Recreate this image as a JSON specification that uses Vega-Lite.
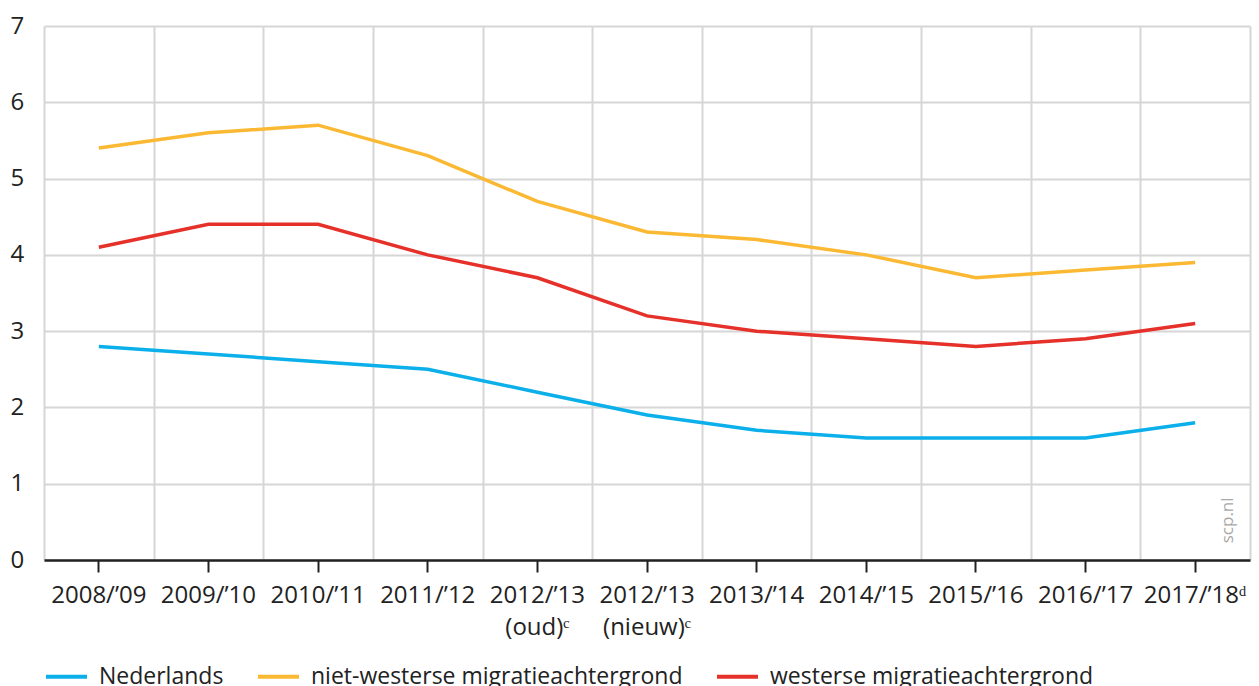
{
  "$schema": "https://vega.github.io/schema/vega-lite/v6.json",
  "width": 1206,
  "height": 534,
  "autosize": "none",
  "padding": {"left": 44, "top": 26, "right": 9, "bottom": 126},
  "background": "white",
  "config": {
    "font": "Open Sans",
    "view": {"stroke": null},
    "axis": {"labelFont": "Open Sans", "labelFontSize": 24, "labelColor": "#222222"}
  },
  "datasets": {
    "main": [
      {"year": "2008/’09", "groep": "Nederlands", "waarde": 2.8},
      {"year": "2009/’10", "groep": "Nederlands", "waarde": 2.7},
      {"year": "2010/’11", "groep": "Nederlands", "waarde": 2.6},
      {"year": "2011/’12", "groep": "Nederlands", "waarde": 2.5},
      {"year": "2012/’13|(oud)ᶜ", "groep": "Nederlands", "waarde": 2.2},
      {"year": "2012/’13|(nieuw)ᶜ", "groep": "Nederlands", "waarde": 1.9},
      {"year": "2013/’14", "groep": "Nederlands", "waarde": 1.7},
      {"year": "2014/’15", "groep": "Nederlands", "waarde": 1.6},
      {"year": "2015/’16", "groep": "Nederlands", "waarde": 1.6},
      {"year": "2016/’17", "groep": "Nederlands", "waarde": 1.6},
      {"year": "2017/’18ᵈ", "groep": "Nederlands", "waarde": 1.8},
      {"year": "2008/’09", "groep": "niet-westerse migratieachtergrond", "waarde": 5.4},
      {"year": "2009/’10", "groep": "niet-westerse migratieachtergrond", "waarde": 5.6},
      {"year": "2010/’11", "groep": "niet-westerse migratieachtergrond", "waarde": 5.7},
      {"year": "2011/’12", "groep": "niet-westerse migratieachtergrond", "waarde": 5.3},
      {"year": "2012/’13|(oud)ᶜ", "groep": "niet-westerse migratieachtergrond", "waarde": 4.7},
      {"year": "2012/’13|(nieuw)ᶜ", "groep": "niet-westerse migratieachtergrond", "waarde": 4.3},
      {"year": "2013/’14", "groep": "niet-westerse migratieachtergrond", "waarde": 4.2},
      {"year": "2014/’15", "groep": "niet-westerse migratieachtergrond", "waarde": 4.0},
      {"year": "2015/’16", "groep": "niet-westerse migratieachtergrond", "waarde": 3.7},
      {"year": "2016/’17", "groep": "niet-westerse migratieachtergrond", "waarde": 3.8},
      {"year": "2017/’18ᵈ", "groep": "niet-westerse migratieachtergrond", "waarde": 3.9},
      {"year": "2008/’09", "groep": "westerse migratieachtergrond", "waarde": 4.1},
      {"year": "2009/’10", "groep": "westerse migratieachtergrond", "waarde": 4.4},
      {"year": "2010/’11", "groep": "westerse migratieachtergrond", "waarde": 4.4},
      {"year": "2011/’12", "groep": "westerse migratieachtergrond", "waarde": 4.0},
      {"year": "2012/’13|(oud)ᶜ", "groep": "westerse migratieachtergrond", "waarde": 3.7},
      {"year": "2012/’13|(nieuw)ᶜ", "groep": "westerse migratieachtergrond", "waarde": 3.2},
      {"year": "2013/’14", "groep": "westerse migratieachtergrond", "waarde": 3.0},
      {"year": "2014/’15", "groep": "westerse migratieachtergrond", "waarde": 2.9},
      {"year": "2015/’16", "groep": "westerse migratieachtergrond", "waarde": 2.8},
      {"year": "2016/’17", "groep": "westerse migratieachtergrond", "waarde": 2.9},
      {"year": "2017/’18ᵈ", "groep": "westerse migratieachtergrond", "waarde": 3.1}
    ],
    "mark": [
      {"year": "2017/’18ᵈ", "tekst": "scp.nl", "waarde": 0.52}
    ]
  },
  "data": {"name": "main"},
  "resolve": {"axis": {"x": "independent"}},
  "layer": [
    {
      "mark": {"type": "point", "opacity": 0},
      "encoding": {
        "x": {
          "field": "year", "type": "nominal",
          "scale": {"type": "band", "paddingInner": 0, "paddingOuter": 0,
            "domain": ["2008/’09", "2009/’10", "2010/’11", "2011/’12", "2012/’13|(oud)ᶜ", "2012/’13|(nieuw)ᶜ", "2013/’14", "2014/’15", "2015/’16", "2016/’17", "2017/’18ᵈ"]},
          "axis": {"orient": "bottom", "title": null, "labels": false, "ticks": false, "domain": false, "grid": true, "tickBand": "extent", "gridColor": "#d6d6d6", "gridWidth": 2, "zindex": 0}
        },
        "y": {"field": "waarde", "type": "quantitative"}
      }
    },
    {
      "mark": {"type": "line", "strokeWidth": 3.5},
      "encoding": {
        "x": {
          "field": "year", "type": "nominal",
          "axis": {"orient": "bottom", "title": null, "grid": false, "labelAngle": 0,
            "labelExpr": "split(datum.value, '|')", "labelLineHeight": 32,
            "labelPadding": 11, "tickSize": 12, "tickWidth": 2, "tickColor": "#222222",
            "domainColor": "#222222", "domainWidth": 2.5, "labelBaseline": "top", "zindex": 1}
        },
        "y": {
          "field": "waarde", "type": "quantitative",
          "scale": {"domain": [0, 7], "nice": false},
          "axis": {"title": null, "values": [0, 1, 2, 3, 4, 5, 6, 7], "format": "d", "ticks": false, "domain": false,
            "grid": true, "gridColor": "#d6d6d6", "gridWidth": 2, "labelAlign": "left", "labelPadding": 34,
            "labelBaseline": "middle"}
        },
        "color": {
          "field": "groep", "type": "nominal",
          "scale": {"domain": ["Nederlands", "niet-westerse migratieachtergrond", "westerse migratieachtergrond"],
            "range": ["#0BAFE9", "#FBB933", "#E6302A"]},
          "legend": {
            "title": null, "orient": "none", "legendX": 0, "legendY": 628, "direction": "horizontal",
            "symbolType": "stroke", "symbolSize": 1681, "symbolStrokeWidth": 4,
            "labelFontSize": 23, "labelFont": "Open Sans", "labelColor": "#222222",
            "labelOffset": 10, "columnPadding": 26, "labelLimit": 600
          }
        }
      }
    },
    {
      "data": {"name": "mark"},
      "mark": {"type": "text", "angle": 270, "fontSize": 17, "color": "#a8a8a8", "align": "center", "baseline": "middle"},
      "encoding": {
        "x": {"field": "year", "type": "nominal", "bandPosition": 0.8, "axis": null},
        "y": {"field": "waarde", "type": "quantitative"},
        "text": {"field": "tekst"}
      }
    }
  ]
}
